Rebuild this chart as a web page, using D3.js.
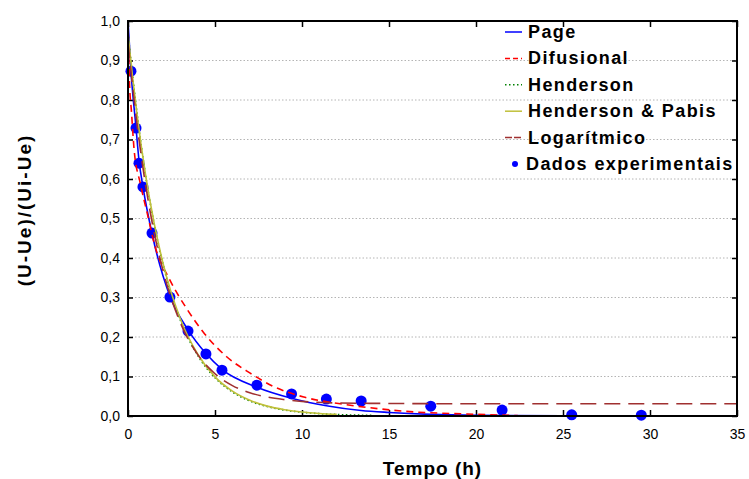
<!DOCTYPE html>
<meta charset="utf-8">
<script src="https://d3js.org/d3.v7.min.js"></script>
<body style="margin: 0; background: #fff;">
<svg id="chart" width="749" height="479"></svg>
</body>

<style>
  text { font-family: "Liberation Sans", Arial, sans-serif; fill: #000; }
  .tick text { font-size: 14px; }
  .tick line { stroke: #000; stroke-width: 1.5px; }
  .grid line { stroke: #b4b4b4; stroke-width: 1px; stroke-dasharray: 1.5 2; }
  .title { font-weight: bold; }
  .legend text { font-size: 18px; font-weight: bold; letter-spacing: 1.4px; }
</style>

<script>
// experimental points
var tExp = [0.17, 0.46, 0.63, 0.86, 1.38, 2.41, 3.45, 4.48, 5.4, 7.41, 9.4, 11.4, 13.4, 17.4, 21.5, 25.5, 29.5];
var uExp = [0.873, 0.729, 0.64, 0.58, 0.463, 0.301, 0.215, 0.157, 0.116, 0.078, 0.056, 0.043, 0.038, 0.025, 0.015, 0.003, 0.002];

// model curves
var tPage = [0, 0.17, 0.46, 0.63, 0.86, 1.38, 2.41, 3.45, 4.48, 5.4, 7.41, 9.4, 11.4, 13.4, 15, 17.4, 20, 25, 35];
var uPage = [1.0, 0.873, 0.73, 0.648, 0.58, 0.462, 0.303, 0.218, 0.158, 0.118, 0.073, 0.045, 0.026, 0.014, 0.009, 0.004, 0.0015, 0.0003, 0];

var tDif = [0, 0.08, 0.2, 0.35, 0.7, 1.07, 1.55, 2.41, 3.37, 4.33, 5.67, 7.0, 8.35, 10.1, 12.2, 13.7, 16.2, 19.5, 22.4];
var uDif = [1.0, 0.85, 0.77, 0.675, 0.59, 0.52, 0.43, 0.344, 0.272, 0.212, 0.15, 0.109, 0.075, 0.048, 0.031, 0.022, 0.011, 0.005, 0.001];

var tHen = [0, 0.25, 0.5, 1, 1.5, 2, 3, 4, 5, 6, 7, 8, 9, 10, 11, 12, 13, 14];
var uHen = [0.97, 0.866, 0.773, 0.612, 0.487, 0.387, 0.244, 0.154, 0.097, 0.061, 0.038, 0.024, 0.015, 0.0095, 0.006, 0.0038, 0.0024, 0.0015];

var tHP = [0, 0.25, 0.5, 1, 1.5, 2, 3, 4, 5, 6, 7, 8, 9, 10, 11, 12];
var uHP = [0.967, 0.863, 0.77, 0.613, 0.489, 0.389, 0.247, 0.157, 0.099, 0.063, 0.04, 0.025, 0.016, 0.01, 0.0065, 0.0043];

var tLog = [0, 0.25, 0.5, 1, 1.5, 2, 3, 4, 5, 6, 7, 8, 9, 10, 12, 14, 20, 35];
var uLog = [0.947, 0.84, 0.745, 0.588, 0.465, 0.37, 0.237, 0.156, 0.107, 0.077, 0.059, 0.048, 0.0415, 0.037, 0.033, 0.032, 0.031, 0.031];

var xTicks = [0, 5, 10, 15, 20, 25, 30, 35];
var yTicks = [0, 0.1, 0.2, 0.3, 0.4, 0.5, 0.6, 0.7, 0.8, 0.9, 1.0];

var legendNames = ["Page", "Difusional", "Henderson", "Henderson & Pabis", "Logarítmico", "Dados experimentais"];

var svg = d3.select("#chart");

var x = d3.scaleLinear().domain([0, 35]).range([128, 737]);
var y = d3.scaleLinear().domain([0, 1]).range([416, 21]);

var comma = function(d) { return d.toFixed(1).replace(".", ","); };

svg.append("defs").append("clipPath").attr("id", "plot")
  .append("rect")
    .attr("x", x(0)).attr("y", y(1))
    .attr("width", x(35) - x(0)).attr("height", y(0) - y(1));

// grid
svg.append("g").attr("class", "grid")
  .selectAll("line")
  .data(yTicks.filter(function(d) { return d > 0 && d < 1; }))
  .join("line")
    .attr("x1", x(0)).attr("x2", x(35))
    .attr("y1", function(d) { return y(d); })
    .attr("y2", function(d) { return y(d); });

// axes, ticks pointing inwards
svg.append("g").attr("transform", "translate(" + x(0) + ",0)")
  .call(d3.axisLeft(y).tickValues(yTicks).tickSize(-5).tickPadding(8).tickFormat(comma))
  .call(function(g) { g.select(".domain").remove(); });

svg.append("g").attr("transform", "translate(" + x(35) + ",0)")
  .call(d3.axisRight(y).tickValues(yTicks).tickSize(-5).tickFormat(""))
  .call(function(g) { g.select(".domain").remove(); });

svg.append("g").attr("transform", "translate(0," + y(0) + ")")
  .call(d3.axisBottom(x).tickValues(xTicks).tickSize(-6).tickPadding(13).tickFormat(d3.format("d")))
  .call(function(g) { g.select(".domain").remove(); });

svg.append("g").attr("transform", "translate(0," + y(1) + ")")
  .call(d3.axisTop(x).tickValues(xTicks).tickSize(-6).tickFormat(""))
  .call(function(g) { g.select(".domain").remove(); });

svg.selectAll(".tick text").style("font-family", "'Liberation Sans', Arial, sans-serif").style("font-size", "14px");

// points
svg.append("g")
  .selectAll("circle")
  .data(tExp)
  .join("circle")
    .attr("cx", function(d) { return x(d); })
    .attr("cy", function(d, i) { return y(uExp[i]); })
    .attr("r", 5.5)
    .attr("fill", "#0000ff");

// curves
var models = [
  { t: tPage, u: uPage, color: "#0000ff", dash: null, w: 1.6 },
  { t: tDif, u: uDif, color: "#ff0000", dash: "7 5", w: 1.6 },
  { t: tHen, u: uHen, color: "#008000", dash: "1.5 2.5", w: 1.6 },
  { t: tHP, u: uHP, color: "#c0c03a", dash: null, w: 1.6 },
  { t: tLog, u: uLog, color: "#a03030", dash: "16 8", w: 1.6 }
];

var line = d3.line()
  .x(function(d) { return x(d[0]); })
  .y(function(d) { return y(d[1]); })
  .curve(d3.curveMonotoneX);

svg.append("g").attr("clip-path", "url(#plot)")
  .selectAll("path")
  .data(models)
  .join("path")
    .attr("fill", "none")
    .attr("stroke", function(d) { return d.color; })
    .attr("stroke-width", function(d) { return d.w; })
    .attr("stroke-dasharray", function(d) { return d.dash; })
    .attr("d", function(d) { return line(d.t.map(function(t, i) { return [t, d.u[i]]; })); });

// frame
svg.append("rect")
  .attr("x", x(0)).attr("y", y(1))
  .attr("width", x(35) - x(0)).attr("height", y(0) - y(1))
  .attr("fill", "none").attr("stroke", "#000").attr("stroke-width", 2);

// legend
var legend = svg.append("g").attr("class", "legend");
var rows = legend.selectAll("g")
  .data(legendNames)
  .join("g")
    .attr("transform", function(d, i) { return "translate(0," + (32 + i * 26.4) + ")"; });

rows.filter(function(d, i) { return i < 5; })
  .append("line")
    .attr("x1", 505).attr("x2", 522)
    .attr("stroke", function(d, i) { return models[i].color; })
    .attr("stroke-width", 1.5)
    .attr("stroke-dasharray", function(d, i) { return i == 4 ? "7 2" : (i == 1 ? "5 3" : models[i].dash); });

rows.filter(function(d, i) { return i == 5; })
  .append("circle")
    .attr("cx", 515).attr("r", 3).attr("fill", "#0000ff");

rows.append("text")
  .attr("x", function(d, i) { return i == 5 ? 526 : 528; })
  .attr("y", 6)
  .text(function(d) { return d; });

// axis titles
svg.append("text").attr("class", "title")
  .attr("x", (x(0) + x(35)) / 2).attr("y", 475)
  .attr("text-anchor", "middle")
  .style("font-size", "19px").style("letter-spacing", "1px")
  .text("Tempo (h)");

svg.append("text").attr("class", "title")
  .attr("transform", "translate(31,210) rotate(-90)")
  .attr("text-anchor", "middle")
  .style("font-size", "19px").style("letter-spacing", "2px")
  .text("(U-Ue)/(Ui-Ue)");
</script>
